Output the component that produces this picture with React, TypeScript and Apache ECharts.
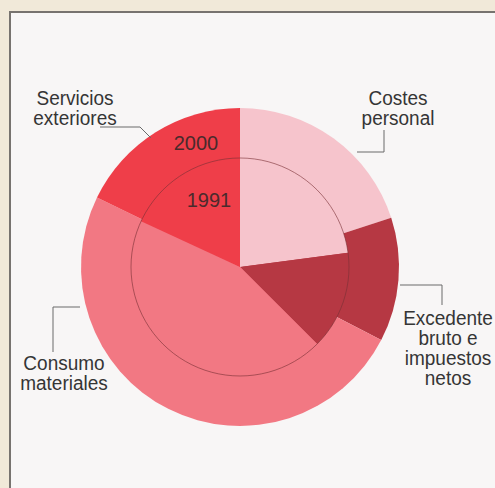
import React, { useEffect, useRef } from "react";
import * as echarts from "echarts";

const categories = ["Costes personal", "Excedente bruto e impuestos netos", "Consumo materiales", "Servicios exteriores"];
const values2000 = [20.0, 12.6, 49.6, 17.8];
const values1991 = [22.9, 14.6, 44.4, 18.1];
const sliceColors = ["#f6c4cc", "#b63843", "#f27883", "#ef3e49"];
const yearLabels = ["2000", "1991"];

const CX = 240;
const CY = 267;
const R_OUT = 159;
const R_IN = 109;

export default function App() {
  const ref = useRef<HTMLDivElement>(null);
  useEffect(() => {
    if (!ref.current) return;
    const chart = echarts.init(ref.current, null, { renderer: "svg" });
    const font = "'Liberation Sans', Arial, sans-serif";
    const txtStyle = (text: string, x: number, y: number) => ({
      type: "text",
      x,
      y,
      scaleY: 1.08,
      style: {
        text,
        fill: "#353535",
        font: `19px ${font}`,
        textAlign: "center",
        textVerticalAlign: "top",
        lineHeight: 18.5,
      },
      z: 10,
    });
    const lineStyle = { stroke: "#6a6a6a", lineWidth: 1, fill: "none" };
    chart.setOption({
      animation: false,
      backgroundColor: "#f1e9d9",
      series: [
        {
          type: "pie",
          center: [CX, CY],
          radius: [0, R_OUT],
          startAngle: 90,
          clockwise: true,
          silent: true,
          label: { show: false },
          labelLine: { show: false },
          itemStyle: { borderWidth: 0 },
          data: categories.map((c, i) => ({ name: c, value: values2000[i], itemStyle: { color: sliceColors[i] } })),
          z: 1,
        },
        {
          type: "pie",
          center: [CX, CY],
          radius: [0, R_IN],
          startAngle: 90,
          clockwise: true,
          silent: true,
          label: { show: false },
          labelLine: { show: false },
          itemStyle: { borderWidth: 0 },
          data: categories.map((c, i) => ({ name: c, value: values1991[i], itemStyle: { color: sliceColors[i] } })),
          z: 2,
        },
      ],
      graphic: [
        {
          type: "rect",
          shape: { x: 10, y: 12, width: 500, height: 490 },
          style: { fill: "#f8f6f6", stroke: "#77736f", lineWidth: 2 },
          z: -10,
          silent: true,
        },
        {
          type: "circle",
          shape: { cx: CX, cy: CY, r: R_IN },
          style: { fill: "none", stroke: "#7a3035", lineWidth: 1, opacity: 0.6 },
          z: 5,
        },
        {
          type: "text",
          x: 196,
          y: 143,
          style: { text: yearLabels[0], fill: "#4a2a2c", font: `20px ${font}`, textAlign: "center", textVerticalAlign: "middle" },
          z: 10,
        },
        {
          type: "text",
          x: 209,
          y: 200,
          style: { text: yearLabels[1], fill: "#4a2a2c", font: `20px ${font}`, textAlign: "center", textVerticalAlign: "middle" },
          z: 10,
        },
        txtStyle("Servicios\nexteriores", 75, 88),
        txtStyle("Costes\npersonal", 398, 88),
        txtStyle("Excedente\nbruto e\nimpuestos\nnetos", 448, 308),
        txtStyle("Consumo\nmateriales", 64, 353),
        { type: "polyline", shape: { points: [[100, 127], [140, 127], [151, 138]] }, style: lineStyle, z: 10 },
        { type: "polyline", shape: { points: [[384, 130], [384, 152], [357, 152]] }, style: lineStyle, z: 10 },
        { type: "polyline", shape: { points: [[400, 285], [442, 285], [442, 305]] }, style: lineStyle, z: 10 },
        { type: "polyline", shape: { points: [[80, 307], [53, 307], [53, 352]] }, style: lineStyle, z: 10 },
      ],
    });
    return () => chart.dispose();
  }, []);
  return <div ref={ref} style={{ width: 495, height: 488, position: "absolute", left: 0, top: 0 }} />;
}
